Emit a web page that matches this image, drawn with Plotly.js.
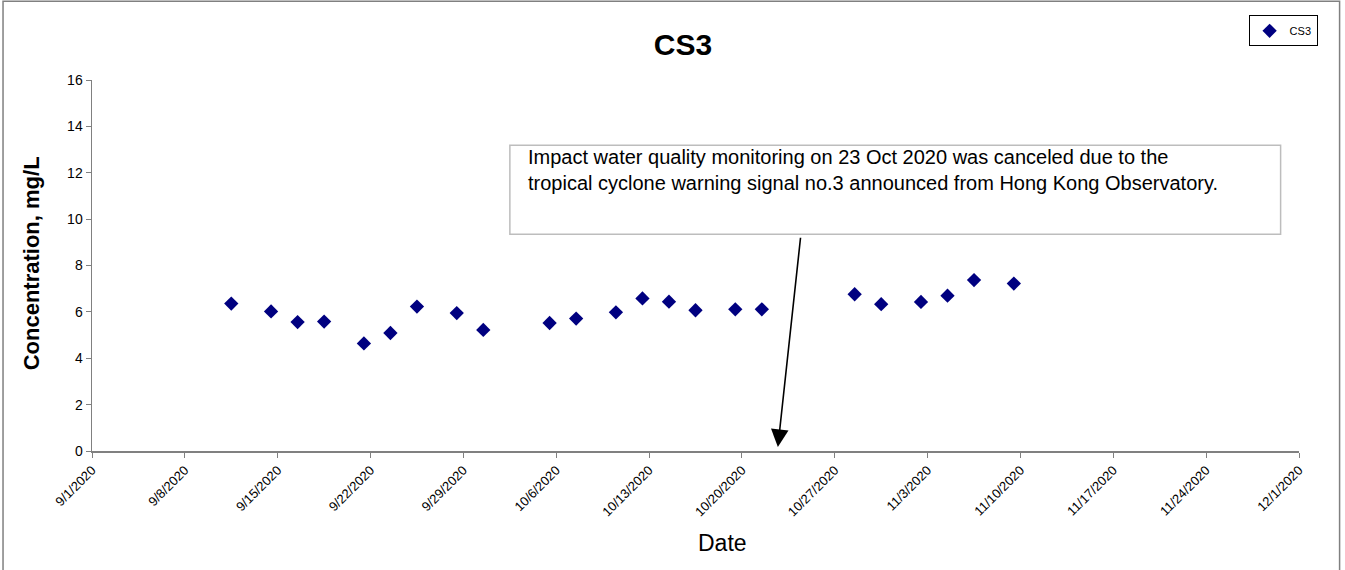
<!DOCTYPE html>
<html>
<head>
<meta charset="utf-8">
<script src="https://cdn.plot.ly/plotly-3.0.1.min.js"></script>
<style>html,body{margin:0;padding:0;background:#fff;}#chart{width:1345px;height:570px;}</style>
</head>
<body>
<div id="chart"></div>
<script>
const dates = ["2020-09-11 12:00","2020-09-14 12:00","2020-09-16 12:00","2020-09-18 12:00","2020-09-21 12:00","2020-09-23 12:00","2020-09-25 12:00","2020-09-28 12:00","2020-09-30 12:00","2020-10-05 12:00","2020-10-07 12:00","2020-10-10 12:00","2020-10-12 12:00","2020-10-14 12:00","2020-10-16 12:00","2020-10-19 12:00","2020-10-21 12:00","2020-10-28 12:00","2020-10-30 12:00","2020-11-02 12:00","2020-11-04 12:00","2020-11-06 12:00","2020-11-09 12:00"];
const cs3 = [6.36,6.02,5.56,5.58,4.64,5.09,6.23,5.95,5.22,5.52,5.71,5.98,6.58,6.44,6.07,6.11,6.11,6.76,6.33,6.43,6.70,7.37,7.22];
const tickDates = ["2020-09-01","2020-09-08","2020-09-15","2020-09-22","2020-09-29","2020-10-06","2020-10-13","2020-10-20","2020-10-27","2020-11-03","2020-11-10","2020-11-17","2020-11-24","2020-12-01"];
const tickLabels = ["9/1/2020","9/8/2020","9/15/2020","9/22/2020","9/29/2020","10/6/2020","10/13/2020","10/20/2020","10/27/2020","11/3/2020","11/10/2020","11/17/2020","11/24/2020","12/1/2020"];
const noteText = "Impact water quality monitoring on 23 Oct 2020 was canceled due to the<br>tropical cyclone warning signal no.3 announced from Hong Kong Observatory.";

const W = 1345, H = 570, L = 92, R = 1299.4, T = 79.7, B = 450.7;
const pw = R - L, ph = B - T;
const px = v => (v - L) / pw;
const py = v => (B - v) / ph;

const trace = {
  x: dates, y: cs3, type: 'scatter', mode: 'markers', name: 'CS3',
  marker: {symbol: 'diamond', size: 11, color: '#000080'}
};

const layout = {
  width: W, height: H,
  margin: {l: L, r: W - R, t: T, b: H - B, pad: 0},
  paper_bgcolor: '#fff', plot_bgcolor: '#fff',
  font: {family: 'Liberation Sans, Arial, sans-serif', color: '#000'},
  title: {text: '<b>CS3</b>', font: {size: 30, color: '#000'}, x: 683/W, xref: 'container', xanchor: 'center', y: 1 - 44/H, yref: 'container', yanchor: 'middle'},
  showlegend: true,
  legend: {x: px(1249), y: py(15), xanchor: 'left', yanchor: 'top', bordercolor: '#000', borderwidth: 1, bgcolor: '#fff', font: {size: 11}, itemwidth: 30, tracegroupgap: 0},
  xaxis: {
    type: 'date', range: ['2020-09-01', '2020-12-01'],
    tickmode: 'array', tickvals: tickDates, ticktext: tickLabels, tickangle: -45,
    ticks: 'outside', ticklen: 5, tickcolor: '#808080', tickfont: {size: 13, color: '#000'},
    showline: true, linecolor: '#808080', linewidth: 1.5, showgrid: false, zeroline: false
  },
  yaxis: {
    range: [0, 16], tickmode: 'linear', tick0: 0, dtick: 2,
    ticks: 'outside', ticklen: 5, tickcolor: '#808080', tickfont: {size: 14, color: '#000'},
    showline: true, linecolor: '#808080', linewidth: 1.5, showgrid: false, zeroline: false
  },
  shapes: [
    {type: 'rect', xref: 'paper', yref: 'paper', x0: px(3), x1: px(1340), y0: py(1), y1: py(572), line: {color: '#808080', width: 1.5}, fillcolor: 'rgba(0,0,0,0)'},
    {type: 'rect', xref: 'paper', yref: 'paper', x0: px(510), x1: px(1281), y0: py(145), y1: py(234), line: {color: '#bdbdbd', width: 1.5}, fillcolor: '#fff'}
  ],
  annotations: [
    {xref: 'paper', yref: 'paper', x: px(526), y: py(170), xanchor: 'left', yanchor: 'middle', align: 'left', showarrow: false,
     text: noteText, font: {size: 20, color: '#000'}},
    {xref: 'paper', yref: 'paper', x: px(723), y: py(543), xanchor: 'center', yanchor: 'middle', showarrow: false,
     text: 'Date', font: {size: 23, color: '#000'}},
    {xref: 'paper', yref: 'paper', x: px(31.5), y: py(263.5), xanchor: 'center', yanchor: 'middle', showarrow: false, textangle: -90,
     text: '<b>Concentration, mg/L</b>', font: {size: 22, color: '#000'}},
    {xref: 'x', yref: 'y', x: '2020-10-22 17:00', y: 0.17, axref: 'x', ayref: 'y', ax: '2020-10-24 10:20', ay: 9.26,
     showarrow: true, arrowhead: 2, arrowsize: 2.2, arrowwidth: 1.6, arrowcolor: '#000', text: ''}
  ]
};

Plotly.newPlot('chart', [trace], layout, {displayModeBar: false, staticPlot: true});
</script>
</body>
</html>
